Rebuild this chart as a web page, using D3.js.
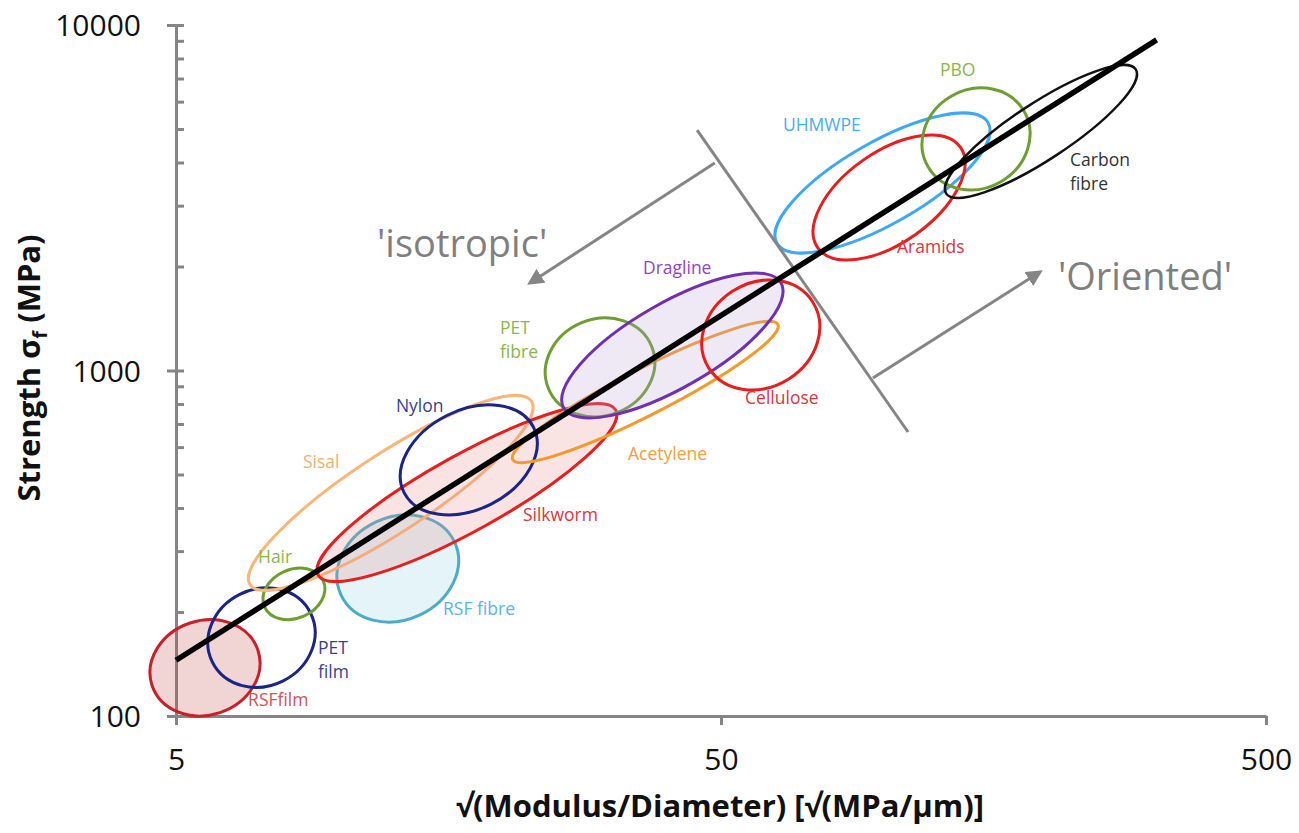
<!DOCTYPE html>
<html>
<head>
<meta charset="utf-8">
<script src="https://cdn.jsdelivr.net/npm/d3@7"></script>
<style>
  body { margin: 0; background: #fff; }
  svg { font-family: "Open Sans", sans-serif; }
</style>
</head>
<body>
<svg id="chart" width="1299" height="833"></svg>
<script>
// material property ranges (x = sqrt(modulus/diameter), y = strength in MPa)
const materials   = ["RSFfilm", "PET film", "Hair", "RSF fibre", "Sisal", "Silkworm", "Nylon", "Acetylene",
                     "PET fibre", "Dragline", "Cellulose", "UHMWPE", "Aramids", "PBO", "Carbon fibre"];
const ratioMin    = [4.48, 5.72, 7.22, 9.87, 6.79, 9.07, 12.9, 20.7, 23.8, 25.5, 46.1, 62.8, 73.8, 116.9, 128.8];
const ratioMax    = [7.13, 9.0, 9.38, 16.5, 22.6, 32.2, 23.0, 63.7, 37.8, 65.0, 75.9, 155.8, 140.2, 184.5, 289.9];
const strengthMin = [100, 121, 190, 187, 231, 245, 382, 541, 734, 729, 878, 2188, 2088, 3330, 3158];
const strengthMax = [190, 235, 268, 382, 847, 802, 795, 1388, 1419, 1915, 1828, 5564, 4804, 6573, 7660];
const correlation = [0.1, 0.1, 0.2, 0.15, 0.88, 0.875, 0.3, 0.93, 0.1, 0.75, 0.15, 0.75, 0.55, 0.1, 0.865];

// label anchors (data units)
const labelX = [6.78, 9.11, 7.07, 15.45, 8.55, 21.65, 12.66, 33.75, 19.66, 35.96, 55.35, 64.96, 105.2, 126.1, 218.5];
const labelY = [106.9, 151.2, 277, 196, 522, 366.7, 758.6, 550.8, 1275, 1902, 799.9, 4934, 2188, 7118, 3907];

// fitted trend line
const fitX = [5, 315];
const fitY = [145, 9060];

// 'isotropic' / 'Oriented' divider and arrows
const dividerX = [45.2, 110.2];
const dividerY = [4966, 663.7];
const arrowIsoX = [48.7, 22.3];
const arrowIsoY = [3986, 1792];
const arrowOriX = [95.0, 192.4];
const arrowOriY = [951, 1928];
const regionText = ["'isotropic'", "'Oriented'"];
const regionX = [11.69, 207.6];
const regionY = [2131, 1710];

const xTicks = [5, 50, 500];
const yTicks = [100, 1000, 10000];
const yMinor = [200, 300, 400, 500, 600, 700, 800, 900, 2000, 3000, 4000, 5000, 6000, 7000, 8000, 9000];

const styles = {
  "RSFfilm":      { stroke: "#c8202a", fill: "#c0504d", label: "#d4505a" },
  "PET film":     { stroke: "#1c2585", fill: null,      label: "#3b3f8e" },
  "Hair":         { stroke: "#6e9e32", fill: null,      label: "#8ab64a" },
  "RSF fibre":    { stroke: "#4bacc6", fill: "#8fd0e4", label: "#5ab4e8" },
  "Sisal":        { stroke: "#f7b77a", fill: null,      label: "#f0b070" },
  "Silkworm":     { stroke: "#e61e1e", fill: "#e6908a", label: "#e0343a" },
  "Nylon":        { stroke: "#1c2585", fill: null,      label: "#3b3f8e" },
  "Acetylene":    { stroke: "#f39a2c", fill: null,      label: "#f0a040" },
  "PET fibre":    { stroke: "#6e9e32", fill: null,      label: "#8ab64a" },
  "Dragline":     { stroke: "#7030b0", fill: "#b8a4d6", label: "#8e44c8" },
  "Cellulose":    { stroke: "#e61e1e", fill: null,      label: "#e0343a" },
  "UHMWPE":       { stroke: "#3ea8f2", fill: null,      label: "#46aef4" },
  "Aramids":      { stroke: "#e61e1e", fill: null,      label: "#e0343a" },
  "PBO":          { stroke: "#6e9e32", fill: null,      label: "#8ab64a" },
  "Carbon fibre": { stroke: "#111111", fill: null,      label: "#333333" }
};

const svg = d3.select("#chart");
const x = d3.scaleLog().domain([5, 500]).range([176, 1266]);
const y = d3.scaleLog().domain([100, 10000]).range([716, 25]);
const grey = "#858585";

// axes
const yAxis = svg.append("g").attr("transform", "translate(176,0)")
    .call(d3.axisLeft(y).tickValues(yTicks).tickSizeInner(9).tickSizeOuter(0).tickPadding(26)
        .tickFormat(d3.format("d")));
yAxis.selectAll(".tick line").attr("x1", 8);
const yMinorAxis = svg.append("g").attr("transform", "translate(176,0)")
    .call(d3.axisRight(y).tickValues(yMinor).tickSize(8).tickFormat(""));
yMinorAxis.select(".domain").remove();

const xAxis = svg.append("g").attr("transform", "translate(0,716)")
    .call(d3.axisBottom(x).tickValues(xTicks).tickSizeInner(9).tickSizeOuter(0).tickPadding(24)
        .tickFormat(d3.format("d")));

[yAxis, yMinorAxis, xAxis].forEach(g => {
  g.selectAll("path, line").attr("stroke", grey).attr("stroke-width", 3);
  g.selectAll("text").attr("fill", "#111").attr("font-size", 30)
    .attr("font-family", "Open Sans, sans-serif");
});
yAxis.selectAll("text").attr("dy", "0.35em");

const yTitle = svg.append("text")
    .attr("transform", "translate(40,368) rotate(-90)")
    .attr("text-anchor", "middle")
    .attr("font-size", 31).attr("font-weight", "bold").attr("fill", "#111");
yTitle.append("tspan").text("Strength σ");
yTitle.append("tspan").attr("font-size", 20).attr("dy", 7).text("f");
yTitle.append("tspan").attr("dy", -7).text(" (MPa)");

svg.append("text")
    .attr("x", 720).attr("y", 817)
    .attr("text-anchor", "middle")
    .attr("font-size", 31).attr("font-weight", "bold").attr("fill", "#111")
    .text("√(Modulus/Diameter) [√(MPa/μm)]");

// ellipses built from the property ranges and their correlation
const shapes = materials.map((m, i) => {
  const x0 = x(ratioMin[i]), x1 = x(ratioMax[i]);
  const y0 = y(strengthMin[i]), y1 = y(strengthMax[i]);
  const hw = Math.abs(x1 - x0) / 2, hh = Math.abs(y1 - y0) / 2;
  const s11 = hw * hw, s22 = hh * hh, s12 = -correlation[i] * hw * hh;
  const tr = (s11 + s22) / 2, det = s11 * s22 - s12 * s12;
  const root = Math.sqrt(tr * tr - det);
  return {
    name: m,
    cx: (x0 + x1) / 2, cy: (y0 + y1) / 2,
    rx: Math.sqrt(tr + root), ry: Math.sqrt(Math.max(tr - root, 1)),
    angle: 0.5 * Math.atan2(2 * s12, s11 - s22) * 180 / Math.PI
  };
});

svg.append("g").selectAll("ellipse")
  .data(shapes)
  .join("ellipse")
    .attr("cx", d => d.cx).attr("cy", d => d.cy)
    .attr("rx", d => d.rx).attr("ry", d => d.ry)
    .attr("transform", d => `rotate(${d.angle},${d.cx},${d.cy})`)
    .attr("fill", d => styles[d.name].fill || "none")
    .attr("fill-opacity", 0.24)
    .attr("stroke", d => styles[d.name].stroke)
    .attr("stroke-width", d => d.name == "Carbon fibre" ? 2.5 : 3);

// material labels
const labels = svg.append("g").attr("font-size", 17.5);
materials.forEach((m, i) => {
  const t = labels.append("text")
      .attr("x", x(labelX[i])).attr("y", y(labelY[i]))
      .attr("fill", styles[m].label);
  const parts = m == "PET film" || m == "PET fibre" || m == "Carbon fibre" ? m.split(" ") : [m];
  parts.forEach((p, k) => {
    t.append("tspan").attr("x", x(labelX[i])).attr("dy", k == 0 ? 0 : 24).text(p);
  });
});

// divider and arrows
svg.append("defs").append("marker")
    .attr("id", "head").attr("viewBox", "0 0 10 10")
    .attr("refX", 8).attr("refY", 5)
    .attr("markerWidth", 5.5).attr("markerHeight", 5.5)
    .attr("orient", "auto")
  .append("path").attr("d", "M0,0 L10,5 L0,10 z").attr("fill", grey);

const seg = (xs, ys) => d3.line()(xs.map((v, i) => [x(v), y(ys[i])]));
svg.append("path").attr("d", seg(dividerX, dividerY))
    .attr("stroke", grey).attr("stroke-width", 3).attr("fill", "none");
[[arrowIsoX, arrowIsoY], [arrowOriX, arrowOriY]].forEach(([xs, ys]) => {
  svg.append("path").attr("d", seg(xs, ys))
      .attr("stroke", grey).attr("stroke-width", 3).attr("fill", "none")
      .attr("marker-end", "url(#head)");
});
regionText.forEach((t, i) => {
  svg.append("text")
      .attr("x", x(regionX[i])).attr("y", y(regionY[i]))
      .attr("font-size", 38).attr("fill", "#7f7f7f")
      .text(t);
});

// trend line on top
svg.append("path")
    .attr("d", seg(fitX, fitY))
    .attr("stroke", "#000").attr("stroke-width", 5.5).attr("fill", "none");
</script>
</body>
</html>
